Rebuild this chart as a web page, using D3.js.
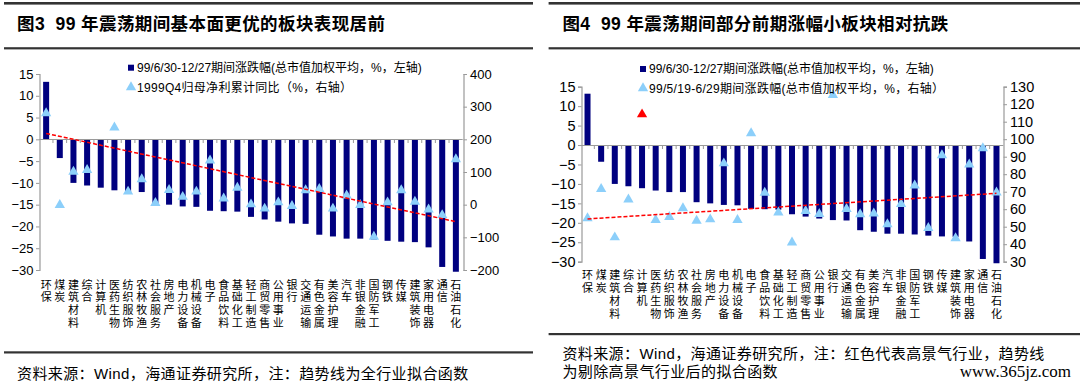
<!DOCTYPE html>
<html>
<head>
<meta charset="utf-8">
<script src="https://cdn.jsdelivr.net/npm/d3@7"></script>
<style>
  html, body { margin: 0; padding: 0; background: #fff; }
  svg { display: block; }
  text { font-family: "Liberation Sans", Arial, "Noto Sans CJK SC", sans-serif; fill: #000; }
  .cjk { font-family: "Liberation Sans", "Noto Sans CJK SC", sans-serif; }
</style>
</head>
<body>
<svg id="chart" width="1080" height="388"></svg>
<script>
// 申万一级行业，按 99/6/30-12/27 涨跌幅排序
var categories = ['环保', '煤炭', '建筑材料', '综合', '计算机', '医药生物', '纺织服饰', '农林牧渔',
  '社会服务', '房地产', '电力设备', '机械设备', '电子', '食品饮料', '基础化工', '轻工制造',
  '商贸零售', '公用事业', '银行', '交通运输', '有色金属', '美容护理', '汽车', '非银金融',
  '国防军工', '钢铁', '传媒', '建筑装饰', '家用电器', '通信', '石油石化'];

// 99/6/30-12/27 期间涨跌幅（%，左轴，两张图共用）
var periodChange = [13.2, -4.3, -10.0, -10.6, -11.1, -11.7, -12.1, -12.1, -14.7, -15.0, -15.4,
  -15.5, -16.4, -16.5, -16.6, -17.8, -18.4, -18.9, -19.3, -19.4, -21.9, -22.3, -22.8, -22.8,
  -23.0, -23.3, -23.5, -23.6, -24.8, -29.3, -30.4];

// 1999Q4 归母净利累计同比（%，右轴），计算机缺失
var profitYoY = [280, -1, 101, 106, null, 236, 40, 78, 5, 45, 24, 40, 135, 19, 52, 1, -12, 7,
  -4, 44, 48, -12, 28, -1, -98, 7, 44, 9, -15, -32, 139];

// 99/5/19-6/29 期间涨跌幅（%，右轴）
var priorChange = [54.8, 71.5, 43.9, 65.6, 114.2, 53.8, 55.5, 60.5, 53.4, 54.2, 86.2, 53.8,
  103.4, 69.4, 58.1, 41.0, 59.0, 57.3, 125.3, 60.1, 57.1, 57.6, 51.4, 63.0, 73.6, 49.3, 90.8,
  43.4, 85.6, 94.8, 69.6];

var highProsperity = ['计算机'];

// 趋势线两端（右轴单位）
var trendAll = [218, -52];
var trendExHigh = [54.4, 69.1];

var leftTicks = [15, 10, 5, 0, -5, -10, -15, -20, -25, -30];
var profitTicks = [400, 300, 200, 100, 0, -100, -200];
var priorTicks = [130, 120, 110, 100, 90, 80, 70, 60, 50, 40, 30];

var NAVY = '#00007f';
var SKY = '#8ccffa';
var RED = '#ff0000';
var AXIS = '#9a9a9a';

var svg = d3.select('#chart');

function drawPanel(o) {
  var g = svg.append('g');

  var x = d3.scaleBand().domain(categories).range([o.left, o.right]);
  var bw = x.bandwidth();
  var cx = function (c) { return x(c) + bw / 2; };
  var yL = d3.scaleLinear().domain([-30, 15]).range([o.bottom, o.top]);
  var yR = d3.scaleLinear().domain(o.rightDomain).range([o.bottom, o.top]);

  // header + rules
  g.append('rect').attr('x', o.ruleX[0]).attr('y', 2).attr('width', o.ruleX[1] - o.ruleX[0]).attr('height', 2.6).attr('fill', '#333');
  g.append('rect').attr('x', o.ruleX[0]).attr('y', 47.2).attr('width', o.ruleX[1] - o.ruleX[0]).attr('height', 2.2).attr('fill', '#333');
  g.append('rect').attr('x', o.ruleX[0]).attr('y', o.footRule).attr('width', o.ruleX[1] - o.ruleX[0]).attr('height', 2.2).attr('fill', '#333');

  g.append('text')
    .attr('x', o.titleX).attr('y', 29.8)
    .attr('font-size', 17.5).attr('font-weight', 'bold')
    .style('letter-spacing', '0.4px').style('white-space', 'pre')
    .text(o.title);

  // bars
  g.selectAll('rect.bar').data(periodChange).enter().append('rect')
    .attr('class', 'bar')
    .attr('x', function (d, i) { return x(categories[i]) + bw * 0.28; })
    .attr('width', bw * 0.44)
    .attr('y', function (d) { return yL(Math.max(0, d)); })
    .attr('height', function (d) { return Math.abs(yL(d) - yL(0)); })
    .attr('fill', NAVY);

  // category axis on the zero line, small ticks between categories
  var y0 = Math.round(yL(0)) + 0.5;
  g.append('line').attr('x1', o.left).attr('x2', o.right).attr('y1', y0).attr('y2', y0)
    .attr('stroke', AXIS).attr('stroke-width', 1.2);
  g.selectAll('line.ctick').data(categories.slice(1)).enter().append('line')
    .attr('class', 'ctick')
    .attr('x1', function (c) { return x(c); }).attr('x2', function (c) { return x(c); })
    .attr('y1', y0).attr('y2', y0 + 3.5)
    .attr('stroke', AXIS);

  // vertical category labels, one character per line
  var lab = g.selectAll('text.cat').data(categories).enter().append('text')
    .attr('class', 'cat cjk')
    .attr('font-size', 11)
    .attr('text-anchor', 'middle')
    .attr('fill', '#222');
  lab.selectAll('tspan').data(function (c) { return c.split('').map(function (ch) { return { ch: ch, c: c }; }); })
    .enter().append('tspan')
    .attr('x', function (d) { return cx(d.c); })
    .attr('y', function (d, i) { return o.labelY + i * 12.8; })
    .text(function (d) { return d.ch; });

  // triangles
  var tri = d3.symbol().type(d3.symbolTriangle).size(46);
  var pts = o.points.map(function (v, i) { return { v: v, c: categories[i] }; })
    .filter(function (d) { return d.v != null; });
  g.selectAll('path.pt').data(pts).enter().append('path')
    .attr('class', 'pt')
    .attr('d', tri)
    .attr('transform', function (d) { return 'translate(' + cx(d.c) + ',' + yR(d.v) + ')'; })
    .attr('fill', function (d) { return highProsperity.indexOf(d.c) >= 0 && o.markHigh ? RED : SKY; });

  // trend line
  g.append('line')
    .attr('x1', cx(categories[0])).attr('y1', yR(o.trend[0]))
    .attr('x2', cx(categories[categories.length - 1])).attr('y2', yR(o.trend[1]))
    .attr('stroke', RED).attr('stroke-width', 1.5).attr('stroke-dasharray', '4,2');

  // value axes
  var aL = g.append('g').attr('transform', 'translate(' + (Math.round(o.left) + 0.5) + ',0)')
    .call(d3.axisLeft(yL).tickValues(leftTicks).tickSize(3.5).tickPadding(2.5));
  var aR = g.append('g').attr('transform', 'translate(' + (Math.round(o.right) + 0.5) + ',0)')
    .call(d3.axisRight(yR).tickValues(o.rightTicks).tickSize(3.5).tickPadding(3));
  [aL, aR].forEach(function (a) {
    a.select('.domain').attr('stroke', AXIS).attr('stroke-width', 1.2);
    a.selectAll('.tick line').attr('stroke', AXIS);
    a.selectAll('.tick text').attr('font-size', o.tickFont).attr('fill', '#111')
      .style('font-family', '"Liberation Sans", Arial, sans-serif');
  });

  // legend
  var lg = g.append('g').attr('class', 'cjk').attr('font-size', 12);
  lg.append('rect').attr('x', o.legendX - 3).attr('y', o.legendY[0] - 3).attr('width', 6).attr('height', 6).attr('fill', NAVY);
  lg.append('text').attr('x', o.legendX + 6).attr('y', o.legendY[0] + 4.2).text(o.legend[0]);
  lg.append('path').attr('d', tri).attr('fill', SKY)
    .attr('transform', 'translate(' + o.legendX + ',' + o.legendY[1] + ')');
  lg.append('text').attr('x', o.legendX + 6).attr('y', o.legendY[1] + 4.2)
    .style('letter-spacing', '0.3px').text(o.legend[1]);

  // source note
  var src = g.append('g').attr('class', 'cjk').attr('font-size', 15);
  o.source.forEach(function (s, i) {
    src.append('text').attr('x', o.titleX).attr('y', o.sourceY + i * 17.9)
      .style('letter-spacing', '0.4px').text(s);
  });
}

drawPanel({
  left: 39.3, right: 462.7, top: 74, bottom: 270,
  rightDomain: [-200, 400], rightTicks: profitTicks,
  points: profitYoY, trend: trendAll, markHigh: false,
  tickFont: 13, labelY: 288.6,
  ruleX: [4, 533], footRule: 351.3, titleX: 17,
  title: '图3  99 年震荡期间基本面更优的板块表现居前',
  legendX: 131, legendY: [67.7, 87.3],
  legend: ['99/6/30-12/27期间涨跌幅(总市值加权平均，%，左轴)', '1999Q4归母净利累计同比（%，右轴）'],
  source: ['资料来源：Wind，海通证券研究所，注：趋势线为全行业拟合函数'], sourceY: 379.3
});

drawPanel({
  left: 580.7, right: 1003.3, top: 86.7, bottom: 261.7,
  rightDomain: [30, 130], rightTicks: priorTicks,
  points: priorChange, trend: trendExHigh, markHigh: true,
  tickFont: 14.5, labelY: 279.3,
  ruleX: [548.6, 1080], footRule: 333, titleX: 562.4,
  title: '图4  99 年震荡期间部分前期涨幅小板块相对抗跌',
  legendX: 643, legendY: [69, 88.3],
  legend: ['99/6/30-12/27期间涨跌幅(总市值加权平均，%，左轴)', '99/5/19-6/29期间涨跌幅(总市值加权平均，%，右轴）'],
  source: ['资料来源：Wind，海通证券研究所，注：红色代表高景气行业，趋势线', '为剔除高景气行业后的拟合函数'], sourceY: 358.6
});

svg.append('text')
  .attr('x', 1071).attr('y', 376.5)
  .attr('text-anchor', 'end')
  .attr('font-size', 17)
  .style('font-family', '"Liberation Serif", "DejaVu Serif", serif')
  .attr('fill', '#1f3f8f')
  .text('www.365jz.com');
</script>
</body>
</html>
